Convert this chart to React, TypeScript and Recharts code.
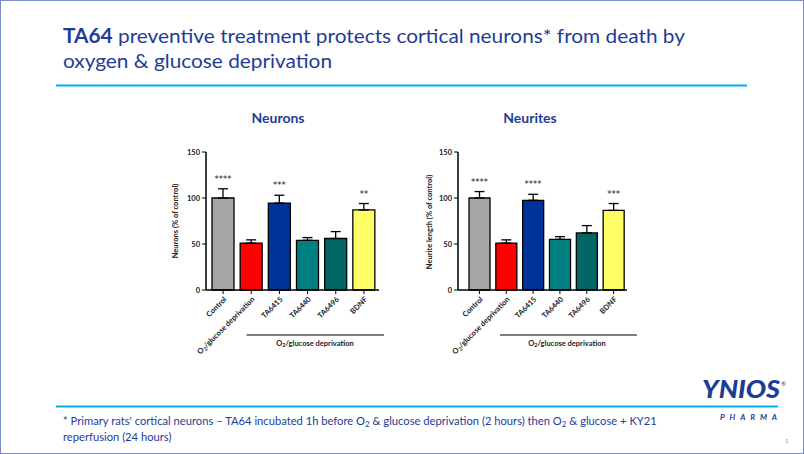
import React from 'react';
import {
  ComposedChart,
  Bar,
  Cell,
  ErrorBar,
  Line,
  LabelList,
  XAxis,
  YAxis,
} from 'recharts';

// ─── Data ────────────────────────────────────────────────────────────────────

const CATEGORIES = ['Control', 'O2/glucose deprivation', 'TA6415', 'TA6440', 'TA6496', 'BDNF'];
const BAR_COLORS = ['#A6A6A6', '#FF0000', '#003399', '#008080', '#006666', '#FFFF66'];
const Y_TICKS = [0, 50, 100, 150];

const NEURON_MEANS = [100, 51, 94.5, 54, 56, 87];
const NEURON_SEM = [10, 3.5, 8.5, 3, 7.5, 7];
const NEURON_STARS = ['****', '', '***', '', '', '**'];

const NEURITE_MEANS = [100, 51, 97.5, 55, 62, 86.5];
const NEURITE_SEM = [7, 3.5, 6.5, 3, 8, 7.5];
const NEURITE_STARS = ['****', '', '****', '', '', '***'];

const BLUE = '#1F3C96';
const FONT = 'Lato, "Open Sans", sans-serif';
const AXIS_FONT = 7.5;

function buildRows(means: number[], sem: number[], stars: string[]) {
  return CATEGORIES.map((name, i) => ({
    name,
    value: means[i],
    err: [0, sem[i]],
    top: means[i] + sem[i],
    stars: stars[i],
  }));
}

const neuronRows = buildRows(NEURON_MEANS, NEURON_SEM, NEURON_STARS);
const neuriteRows = buildRows(NEURITE_MEANS, NEURITE_SEM, NEURITE_STARS);

// ─── Pieces ──────────────────────────────────────────────────────────────────

function O2Label({ rest }: { rest: string }) {
  return (
    <>
      O<tspan dy={1.6} fontSize="0.72em">2</tspan>
      <tspan dy={-1.6}>{rest}</tspan>
    </>
  );
}

function XTick(props: any) {
  const { x, y, payload } = props;
  const v: string = payload.value;
  return (
    <g transform={`translate(${x + 2},${y + 2})`}>
      <text
        transform="rotate(-45)"
        textAnchor="end"
        dy="0.35em"
        fontSize={AXIS_FONT}
        fontWeight={700}
        fontFamily={FONT}
        fill="#222"
      >
        {v.startsWith('O2') ? <O2Label rest={v.slice(2)} /> : v}
      </text>
    </g>
  );
}

function StarLabel(props: any) {
  const { x, y, value } = props;
  if (!value) return null;
  return (
    <text x={x} y={y - 7} textAnchor="middle" fontSize={8.5} fontFamily='"DejaVu Sans", sans-serif' fill="#222">
      {value}
    </text>
  );
}

interface PanelProps {
  rows: ReturnType<typeof buildRows>;
  left: number;
  yWidth: number;
  rightMargin: number;
  padLeft: number;
  padRight: number;
  barSize: number;
}

function Panel({ rows, left, yWidth, rightMargin, padLeft, padRight, barSize }: PanelProps) {
  return (
    <div style={{ position: 'absolute', left, top: 100 }}>
      <ComposedChart
        width={240}
        height={260}
        data={rows}
        margin={{ top: 52, right: rightMargin, bottom: 10, left: 0 }}
      >
        <XAxis
          dataKey="name"
          height={60}
          interval={0}
          padding={{ left: padLeft, right: padRight }}
          axisLine={{ stroke: '#000', strokeWidth: 1.5 }}
          tickLine={{ stroke: '#000', strokeWidth: 1 }}
          tickSize={4}
          tick={<XTick />}
        />
        <YAxis
          width={yWidth}
          domain={[0, 150]}
          ticks={Y_TICKS}
          axisLine={{ stroke: '#000', strokeWidth: 1.5 }}
          tickLine={{ stroke: '#000', strokeWidth: 1 }}
          tickSize={4}
          tick={{ fontSize: AXIS_FONT, fontWeight: 700, fill: '#222', fontFamily: FONT }}
        />
        <Bar dataKey="value" barSize={barSize} isAnimationActive={false}>
          {rows.map((_, i) => (
            <Cell key={i} fill={BAR_COLORS[i]} stroke="#000" strokeWidth={1.3} />
          ))}
          <ErrorBar dataKey="err" width={5} stroke="#000" strokeWidth={1.3} direction="y" />
        </Bar>
        <Line
          dataKey="top"
          stroke="none"
          dot={false}
          activeDot={false}
          legendType="none"
          isAnimationActive={false}
        >
          <LabelList dataKey="stars" content={<StarLabel />} />
        </Line>
      </ComposedChart>
    </div>
  );
}

// ─── Slide ───────────────────────────────────────────────────────────────────

export default function App() {
  return (
    <div
      style={{
        position: 'absolute',
        left: 0,
        top: 0,
        width: 804,
        height: 454,
        background: '#fff',
        overflow: 'hidden',
        fontFamily: FONT,
      }}
    >
      <svg width={804} height={454} style={{ position: 'absolute', left: 0, top: 0 }}>
        <rect x={0.5} y={0.5} width={803} height={453} fill="none" stroke="#7F8CC4" />
        <text x={63} y={42.5} fontSize={20} fontFamily={FONT} fill={BLUE} textLength={622} lengthAdjust="spacingAndGlyphs">
          <tspan fontWeight={700}>TA64</tspan> preventive treatment protects cortical neurons* from death by
        </text>
        <text x={63} y={68} fontSize={20} fontFamily={FONT} fill={BLUE} textLength={269} lengthAdjust="spacingAndGlyphs">
          oxygen &amp; glucose deprivation
        </text>
        <line x1={56} y1={85.5} x2={747} y2={85.5} stroke="#00B0F0" strokeWidth={2} />

        <text x={278} y={123} textAnchor="middle" fontSize={14} fontWeight={700} fontFamily={FONT} fill={BLUE}>
          Neurons
        </text>
        <text x={530} y={123} textAnchor="middle" fontSize={14} fontWeight={700} fontFamily={FONT} fill={BLUE}>
          Neurites
        </text>

        <text
          transform="translate(178,221) rotate(-90)"
          textAnchor="middle"
          fontSize={AXIS_FONT}
          fontWeight={700}
          fontFamily={FONT}
          fill="#222"
        >
          Neurons (% of control)
        </text>
        <text
          transform="translate(431.5,222) rotate(-90)"
          textAnchor="middle"
          fontSize={AXIS_FONT}
          fontWeight={700}
          fontFamily={FONT}
          fill="#222"
        >
          Neurite length (% of control)
        </text>

        <line x1={246.5} y1={335} x2={384} y2={335} stroke="#000" strokeWidth={1} />
        <text x={315} y={345.5} textAnchor="middle" fontSize={AXIS_FONT} fontWeight={700} fontFamily={FONT} fill="#222">
          <O2Label rest="/glucose deprivation" />
        </text>
        <line x1={500} y1={335} x2={637} y2={335} stroke="#000" strokeWidth={1} />
        <text x={567} y={345.5} textAnchor="middle" fontSize={AXIS_FONT} fontWeight={700} fontFamily={FONT} fill="#222">
          <O2Label rest="/glucose deprivation" />
        </text>

        <line x1={56} y1={406.5} x2={778} y2={406.5} stroke="#00B0F0" strokeWidth={2} />
        <text x={63} y={425} fontSize={11.2} fontFamily={FONT} fill={BLUE}>
          * Primary rats' cortical neurons – TA64 incubated 1h before O
          <tspan dy={2} fontSize={8}>2</tspan>
          <tspan dy={-2}> &amp; glucose deprivation (2 hours) then O</tspan>
          <tspan dy={2} fontSize={8}>2</tspan>
          <tspan dy={-2}> &amp; glucose + KY21</tspan>
        </text>
        <text x={63} y={441} fontSize={11.2} fontFamily={FONT} fill={BLUE}>
          reperfusion (24 hours)
        </text>

        <text
          x={702}
          y={398}
          fontSize={25}
          fontWeight={900}
          fontStyle="italic"
          fontFamily={FONT}
          fill={BLUE}
          textLength={78}
          lengthAdjust="spacingAndGlyphs"
        >
          YNIOS
        </text>
        <text x={781} y={386} fontSize={6} fontFamily={FONT} fill={BLUE}>
          ®
        </text>
        <text
          x={720}
          y={420}
          fontSize={8}
          fontWeight={700}
          fontStyle="italic"
          fontFamily={FONT}
          fill={BLUE}
          textLength={57}
          lengthAdjust="spacing"
        >
          PHARMA
        </text>
        <text x={785} y={443} fontSize={6} fontFamily={FONT} fill="#999">
          1
        </text>
      </svg>

      <Panel rows={neuronRows} left={150} yWidth={56} rightMargin={11} padLeft={3} padRight={1} barSize={22} />
      <Panel rows={neuriteRows} left={400} yWidth={58} rightMargin={13} padLeft={8} padRight={0} barSize={21} />
    </div>
  );
}
